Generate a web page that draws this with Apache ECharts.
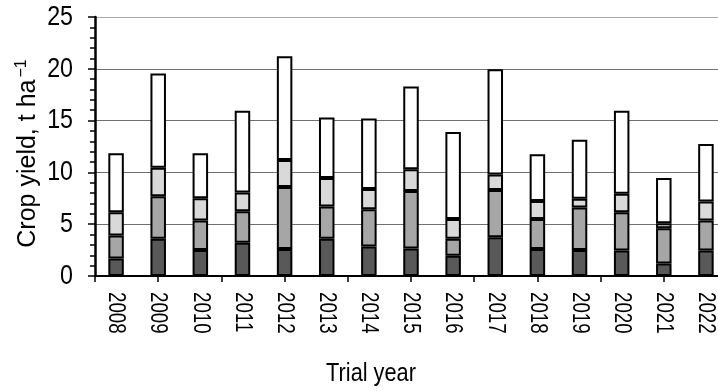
<!DOCTYPE html>
<html>
<head>
<meta charset="utf-8">
<script src="https://cdn.jsdelivr.net/npm/echarts@6/dist/echarts.min.js"></script>
<style>
  html, body { margin: 0; padding: 0; background: #fff; }
  #chart { width: 718px; height: 391px; }
</style>
</head>
<body>
<div id="chart"></div>
<script>
// Trial years on the category axis
const years = ['2008', '2009', '2010', '2011', '2012', '2013', '2014', '2015',
               '2016', '2017', '2018', '2019', '2020', '2021', '2022'];

// Stacked yield fractions, t/ha (bottom to top)
const fraction1 = [1.7, 3.6, 2.5, 3.2, 2.6, 3.6, 2.85, 2.65, 1.95, 3.75, 2.6, 2.5, 2.45, 1.2, 2.45];
const fraction2 = [2.2, 4.1, 2.85, 3.05, 6.0, 3.1, 3.6, 5.55, 1.65, 4.55, 2.9, 4.1, 3.7, 3.4, 2.9];
const fraction3 = [2.25, 2.75, 2.15, 1.8, 2.6, 2.75, 1.95, 2.1, 1.9, 1.5, 1.75, 0.85, 1.8, 0.5, 1.85];
const fraction4 = [5.7, 9.1, 4.35, 7.9, 10.0, 5.85, 6.8, 8.0, 8.4, 10.15, 4.5, 5.7, 8.0, 4.35, 5.55];

// Y axis ticks and their labels
const yMin = 0, yMax = 25, yStep = 5;
const yTickLabels = ['0', '5', '10', '15', '20', '25'];

const fills = ['#595959', '#a6a6a6', '#d9d9d9', '#ffffff'];
const layers = [fraction1, fraction2, fraction3, fraction4];

// Half-band positions used only for drawing x-axis tick marks
const halfBands = [];
years.forEach(y => { halfBands.push(y + 'a'); halfBands.push(y + 'b'); });

const font = '"Liberation Sans", Arial, sans-serif';
const gridLeft = 95;

const chart = echarts.init(document.getElementById('chart'), null, { renderer: 'canvas' });

chart.setOption({
  animation: false,
  backgroundColor: '#fff',
  grid: { left: gridLeft, right: -9, top: 17, bottom: 115, containLabel: false, outerBoundsMode: 'none' },
  xAxis: [
    {
      type: 'category',
      data: years,
      boundaryGap: true,
      axisLine: { show: true, lineStyle: { color: '#000', width: 2 } },
      axisTick: { show: false },
      axisLabel: { show: false },
      z: 5
    },
    {
      type: 'category',
      data: halfBands,
      position: 'bottom',
      boundaryGap: true,
      axisLine: { show: false },
      axisTick: { show: true, length: 6, lineStyle: { color: '#000', width: 1.5 } },
      axisLabel: { show: false },
      splitLine: { show: false }
    }
  ],
  yAxis: {
    type: 'value',
    min: yMin, max: yMax, interval: yStep,
    axisLine: { show: true, lineStyle: { color: '#000', width: 2.5 } },
    axisTick: { show: true, length: 7, lineStyle: { color: '#000', width: 1.5 } },
    minorTick: { show: true, splitNumber: 5, length: 5, lineStyle: { color: '#000', width: 1.5 } },
    axisLabel: { show: false },
    splitLine: {
      show: true,
      lineStyle: { color: ['#000', '#707070', '#707070', '#707070', '#707070', '#a8a8a8'], width: 1 }
    },
    name: '{a|Crop yield, t ha}{s|−1}',
    nameLocation: 'middle',
    nameGap: 53,
    nameRotate: 90,
    nameTextStyle: {
      color: '#000', fontFamily: font, padding: [0, 14, 0, 0],
      rich: {
        a: { fontSize: 25, fontFamily: font, color: '#000' },
        s: { fontSize: 16, fontFamily: font, color: '#000', padding: [0, 0, 12, 2] }
      }
    }
  },
  series: layers.map((vals, i) => ({
    name: 'Fraction ' + (i + 1),
    type: 'bar',
    stack: 'yield',
    xAxisIndex: 0,
    barWidth: 15.5,
    data: vals,
    itemStyle: { color: fills[i], borderColor: '#000', borderWidth: 2 },
    z: 3
  }))
});

// Tick labels in a condensed cut: Liberation Sans squeezed along the text direction,
// placed at the positions the axes give for each category and tick value.
const axisY = chart.convertToPixel({ yAxisIndex: 0 }, yMin);
const labels = [];

yTickLabels.forEach(t => {
  labels.push({
    type: 'text',
    x: gridLeft - 22,
    y: chart.convertToPixel({ yAxisIndex: 0 }, Number(t)),
    scaleX: 0.83,
    style: { text: t, fontSize: 28, fontFamily: font, fill: '#000', align: 'right', verticalAlign: 'middle' },
    silent: true
  });
});

years.forEach(yr => {
  labels.push({
    type: 'text',
    x: chart.convertToPixel({ xAxisIndex: 0 }, yr),
    y: axisY + 16,
    rotation: -Math.PI / 2,
    scaleX: 0.765,
    style: { text: yr, fontSize: 24.5, fontFamily: font, fill: '#000', align: 'left', verticalAlign: 'middle' },
    silent: true
  });
});

// X axis title
labels.push({
  type: 'text',
  x: 371,
  y: axisY + 98,
  scaleX: 0.87,
  style: { text: 'Trial year', fontSize: 25, fontFamily: font, fill: '#000', align: 'center', verticalAlign: 'middle' },
  silent: true
});

chart.setOption({ graphic: labels });
</script>
</body>
</html>
